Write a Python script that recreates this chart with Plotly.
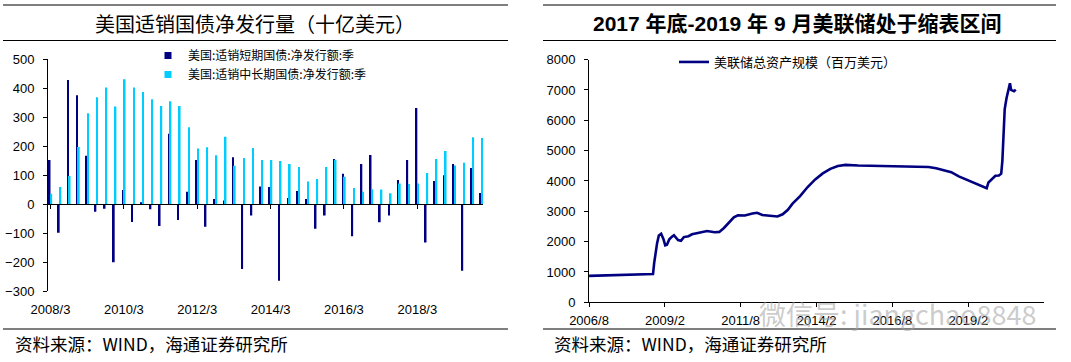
import plotly.graph_objects as go

W, H = 1071, 362

# ---------------- Left chart data (quarterly, 十亿美元) ----------------
quarters = [f"{y}/{m}" for y in range(2008, 2020) for m in (3, 6, 9, 12)]
tick_quarters = ["2008/3", "2010/3", "2012/3", "2014/3", "2016/3", "2018/3"]

short_term = [153, -98, 429, 376, 167, -26, -15, -200, 49, -61, 5, -17,
              -75, 243, -54, 43, 153, -77, 18, 13, 162, -223, -39, 61,
              60, -264, 22, 46, 18, -84, -39, 156, 105, -110, 139, 170,
              -62, -39, 84, 153, 332, -132, 80, 100, 139, -229, 125, 39]
long_term = [36, 60, 98, 198, 314, 369, 403, 337, 431, 403, 387, 362,
             339, 355, 339, 266, 192, 197, 169, 233, 133, 160, 194, 153,
             153, 149, 139, 129, 79, 87, 129, 154, 95, 56, 43, 52,
             51, 38, 72, 70, 72, 108, 156, 184, 134, 143, 231, 229]
name_short = "美国:适销短期国债:净发行额:季"
name_long = "美国:适销中长期国债:净发行额:季"

# ---------------- Right chart data (百万美元) ----------------
fed_dates = ["2006-08-02", "2006-10-04", "2006-12-27", "2007-03-28", "2007-06-27",
             "2007-09-26", "2007-12-26", "2008-03-26", "2008-06-25", "2008-08-27",
             "2008-09-10", "2008-09-24", "2008-10-08", "2008-10-29", "2008-11-19",
             "2008-12-17", "2009-01-14", "2009-02-04", "2009-02-25", "2009-03-25",
             "2009-04-22", "2009-05-20", "2009-07-08", "2009-08-12", "2009-09-16",
             "2009-11-11", "2009-12-23", "2010-03-24", "2010-06-23", "2010-09-22",
             "2010-11-17", "2011-01-12", "2011-03-16", "2011-05-11", "2011-06-29",
             "2011-09-21", "2011-12-21", "2012-02-15", "2012-04-18", "2012-07-18",
             "2012-10-17", "2012-12-19", "2013-02-20", "2013-04-17", "2013-07-17",
             "2013-10-16", "2014-01-15", "2014-04-16", "2014-07-16", "2014-10-15",
             "2015-01-14", "2015-06-17", "2016-01-13", "2016-07-13", "2017-01-11",
             "2017-07-12", "2017-10-11", "2018-01-10", "2018-04-11", "2018-07-11",
             "2018-10-10", "2019-01-09", "2019-04-10", "2019-07-10", "2019-09-11",
             "2019-10-02", "2019-11-06", "2019-12-25", "2020-02-05", "2020-03-04",
             "2020-03-18", "2020-03-25", "2020-04-01", "2020-04-15", "2020-05-06",
             "2020-06-03", "2020-06-10", "2020-06-17", "2020-07-01", "2020-07-22",
             "2020-08-05", "2020-08-26"]
fed_assets = [870, 875, 880, 885, 890,
              900, 905, 910, 915, 920,
              930, 1300, 1600, 1950, 2200,
              2260, 2080, 1880, 1900, 2080,
              2150, 2210, 2050, 2030, 2150,
              2180, 2240, 2300, 2350, 2310,
              2320, 2450, 2650, 2800, 2870,
              2860, 2930, 2950, 2880, 2860,
              2830, 2900, 3050, 3250, 3500,
              3800, 4050, 4250, 4400, 4490,
              4530, 4510, 4500, 4480, 4490,
              4470, 4460, 4420, 4360, 4290,
              4150, 4050, 3950, 3830, 3760,
              3950, 4050, 4170, 4180, 4240,
              4670, 5300, 5800, 6370, 6720,
              7100, 7170, 7220, 7000, 6960,
              6960, 7010]
fed_name = "美联储总资产规模（百万美元）"
fed_tickvals = ["2006-08-01", "2009-02-01", "2011-08-01", "2014-02-01", "2016-08-01", "2019-02-01"]
fed_ticktext = ["2006/8", "2009/2", "2011/8", "2014/2", "2016/8", "2019/2"]

DARK = "#000080"
CYAN = "#00CCFF"
NUM_FONT = "Liberation Sans, Arial, Noto Sans CJK SC"
CJK_FONT = "Noto Sans CJK SC, Liberation Sans"


def px(x):
    return x / W


def py(y):
    return 1 - y / H


fig = go.Figure()

fig.add_trace(go.Bar(x=quarters, y=short_term, name=name_short, marker_color=DARK,
                     marker_line_width=0, showlegend=False, xaxis="x", yaxis="y"))
fig.add_trace(go.Bar(x=quarters, y=long_term, name=name_long, marker_color=CYAN,
                     marker_line_width=0, showlegend=False, xaxis="x", yaxis="y"))
# legend proxies (small squares)
fig.add_trace(go.Scatter(x=[None], y=[None], mode="markers", name=name_short,
                         marker=dict(symbol="square", size=7, color=DARK),
                         xaxis="x", yaxis="y", legend="legend"))
fig.add_trace(go.Scatter(x=[None], y=[None], mode="markers", name=name_long,
                         marker=dict(symbol="square", size=7, color=CYAN),
                         xaxis="x", yaxis="y", legend="legend"))
# helper for zero-line axis with ticks
fig.add_trace(go.Scatter(x=[0], y=[0], mode="markers", marker=dict(opacity=0),
                         showlegend=False, hoverinfo="skip", xaxis="x3", yaxis="y"))

fig.add_trace(go.Scatter(x=fed_dates, y=fed_assets, name=fed_name, mode="lines",
                         line=dict(color=DARK, width=2.6), xaxis="x2", yaxis="y2",
                         legend="legend2"))

xr = [-0.27, 47.16]
y_dom = [py(291.3), py(59.3)]
zero_pos = y_dom[0] + 0.375 * (y_dom[1] - y_dom[0])

fig.update_layout(
    width=W, height=H, margin=dict(l=0, r=0, t=0, b=0, autoexpand=False),
    paper_bgcolor="white", plot_bgcolor="white",
    barmode="group", bargap=0.63, bargroupgap=0,
    font=dict(family=NUM_FONT, size=13, color="black"),
    xaxis=dict(domain=[px(48), px(483)], type="category", categoryorder="array",
               categoryarray=quarters, range=xr, tickmode="array",
               tickvals=tick_quarters, ticktext=tick_quarters, showline=False,
               ticks="", showgrid=False, zeroline=False, anchor="y",
               ticklabelstandoff=9, tickfont=dict(family=NUM_FONT, size=13)),
    xaxis3=dict(overlaying="x", anchor="free", position=zero_pos, type="linear",
                range=xr, tickmode="array", tickvals=[0, 8, 16, 24, 32, 40],
                showticklabels=False, showline=True, linecolor="black", linewidth=1,
                ticks="outside", ticklen=4, tickcolor="black", showgrid=False,
                zeroline=False),
    yaxis=dict(domain=y_dom, range=[-300, 500], dtick=100, tick0=0, showline=True,
               linecolor="black", linewidth=1, ticks="outside", ticklen=4,
               tickcolor="black", showgrid=False, zeroline=False, anchor="x",
               ticklabelstandoff=6, tickfont=dict(family=NUM_FONT, size=13)),
    xaxis2=dict(domain=[px(589), px(1044)], type="date",
                range=["2006-08-01", "2021-08-01"], tickmode="array",
                tickvals=fed_tickvals, ticktext=fed_ticktext, showline=True,
                linecolor="black", linewidth=1, ticks="outside", ticklen=4,
                tickcolor="black", showgrid=False, zeroline=False, anchor="y2",
                ticklabelstandoff=2, tickfont=dict(family=NUM_FONT, size=13)),
    yaxis2=dict(domain=[py(302.3), py(59.6)], range=[0, 8000], dtick=1000,
                showline=True, linecolor="black", linewidth=1, ticks="outside",
                ticklen=4, tickcolor="black", showgrid=False, zeroline=False,
                anchor="x2", ticklabelstandoff=6,
                tickfont=dict(family=NUM_FONT, size=13)),
    legend=dict(x=px(148), y=py(41), xanchor="left", yanchor="top",
                bgcolor="rgba(0,0,0,0)", font=dict(family=CJK_FONT, size=12),
                itemwidth=30, tracegroupgap=0),
    legend2=dict(x=px(674), y=py(47), xanchor="left", yanchor="top",
                 bgcolor="rgba(0,0,0,0)", font=dict(family=CJK_FONT, size=13),
                 itemwidth=30),
    showlegend=True,
)

# Titles
fig.add_annotation(text="美国适销国债净发行量（十亿美元）", x=px(255), y=py(23),
                   xref="paper", yref="paper", xanchor="center", yanchor="middle",
                   showarrow=False, font=dict(family=CJK_FONT, size=20, color="black"))
fig.add_annotation(text="<b>2017 年底-2019 年 9 月美联储处于缩表区间</b>", x=px(797), y=py(23),
                   xref="paper", yref="paper", xanchor="center", yanchor="middle",
                   showarrow=False, font=dict(family=NUM_FONT, size=21, color="black"))
# Sources
for x0 in (13, 552):
    fig.add_annotation(text="资料来源：WIND，海通证券研究所", x=px(x0), y=py(343),
                       xref="paper", yref="paper", xanchor="left", yanchor="middle",
                       showarrow=False,
                       font=dict(family=CJK_FONT, size=17.5, color="black"))
# Watermark
fig.add_annotation(text="微信号: jiangchao8848", x=px(898), y=py(313),
                   xref="paper", yref="paper", xanchor="center", yanchor="middle",
                   showarrow=False,
                   font=dict(family=CJK_FONT, size=27, color="rgba(160,160,160,0.55)"))

# Horizontal rules
for (xa, xb) in ((3, 508), (543, 1056)):
    for yy in (5, 40.5, 329):
        fig.add_shape(type="line", xref="paper", yref="paper",
                      x0=px(xa), x1=px(xb), y0=py(yy), y1=py(yy),
                      line=dict(color="black", width=1.2))

fig.write_html("out.html", config={"displayModeBar": False},
               post_script="document.body.style.margin='0';document.body.style.overflow='hidden';")
